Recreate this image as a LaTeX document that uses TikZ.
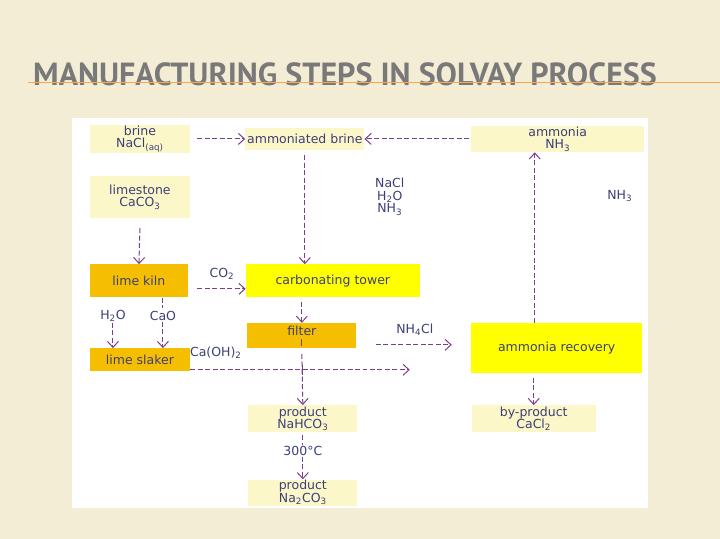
\documentclass[tikz,border=0pt]{standalone}
\usepackage{fontspec}
\setmainfont{DejaVu Sans}
\newfontfamily\titlefont{PT Sans}
\usetikzlibrary{arrows.meta}
\definecolor{ink}{HTML}{3B3F7A}
\definecolor{flow}{HTML}{7A3F8A}
\definecolor{pale}{HTML}{FCF7C8}
\definecolor{kiln}{HTML}{F5BE00}
\definecolor{tower}{HTML}{FFFF00}
\definecolor{paper}{HTML}{F4EDD6}
\newcommand\sub[1]{\textsubscript{#1}}
\tikzset{
    plain node/.style={inner sep=1pt, text=ink, font=\fontsize{12.5}{12.5}\selectfont, align=center},
    raw node/.style={plain node, fill=pale},
    kiln node/.style={plain node, fill=kiln},
    tower node/.style={plain node, fill=tower},
    tag/.style={plain node},
    flow/.style={draw=flow, line width=1pt, dash pattern=on 5pt off 2.5pt},
    feed/.style={flow, -{Straight Barb[length=6pt,width=11pt]}}
    }
\begin{document}
\begin{tikzpicture}[x=1pt,y=-1pt]
    \fill[paper] (0,0) rectangle (720,539);
    \fill[white] (72,118) rectangle (648,508);
    \node[anchor=base west, inner sep=0, text=gray!95!black, font=\titlefont\bfseries\fontsize{32}{32}\selectfont] (title) at (33,86) {MANUFACTURING STEPS IN SOLVAY PROCESS};
    \draw[orange!70, line width=0.8pt] (28,82) -- (720,82);
    % sources
    \node(brine)[raw node, minimum width=100, minimum height=26] at (140,139) {brine\\NaCl\sub{(aq)}};
    \node(abrine)[raw node, minimum width=119, minimum height=22] at (305,139) {ammoniated brine};
    \node(ammonia)[raw node, minimum width=173, minimum height=26] at (558,139) {ammonia\\NH\sub{3}};
    \node(limestone)[raw node, minimum width=100, minimum height=42] at (140,197) {limestone\\CaCO\sub{3}};
    \node(mix)[tag] at (390,197) {NaCl\\H\sub{2}O\\NH\sub{3}};
    \node(nh)[tag] at (620,196) {NH\sub{3}};
    % process units
    \node(kiln)[kiln node, minimum width=98, minimum height=33] at (139,281) {lime kiln};
    \node(tower)[tower node, minimum width=174, minimum height=33] at (333,281) {carbonating tower};
    \node(filter)[kiln node, minimum width=109, minimum height=25, anchor=north, text depth=10pt] at (302,323) {filter};
    \node(recovery)[tower node, minimum width=171, minimum height=50] at (557,348) {ammonia recovery};
    \node(slaker)[kiln node, minimum width=100, minimum height=23] at (140,360) {lime slaker};
    % products
    \node(bicarb)[raw node, minimum width=109, minimum height=27] at (303,419) {product\\NaHCO\sub{3}};
    \node(soda)[raw node, minimum width=109, minimum height=25] at (303,493) {product\\Na\sub{2}CO\sub{3}};
    \node(byprod)[raw node, minimum width=124, minimum height=27] at (534,419) {by-product\\CaCl\sub{2}};
    % labels
    \node(co2)[tag] at (222,274) {CO\sub{2}};
    \node(water)[tag] at (113,316) {H\sub{2}O};
    \node(cao)[tag] at (163,316) {CaO};
    \node(caoh)[tag, anchor=west] at (189,353) {Ca(OH)\sub{2}};
    \node(nh4cl)[tag] at (415,330) {NH\sub{4}Cl};
    \node(heat)[tag] at (303,451) {300\textdegree C};
    \coordinate(split) at (303,370);
    \coordinate(slakeout) at (410,370);
    % flows
    \draw[feed] (brine.east) ++(7,0) -- (abrine.west);
    \draw[feed] (ammonia.west) ++(-2,0) -- (abrine.east);
    \draw[feed] (abrine.south) ++(0,5) -- (abrine.south |- tower.north);
    \draw[feed] (limestone.south) ++(0,10) -- (kiln.north);
    \draw[feed] (kiln.east |- 0,289) ++(9,0) -- (tower.west |- 0,289);
    \draw[flow] (kiln.south -| cao) -- ++(0,10);
    \draw[feed] (water.south) -- (slaker.north -| water);
    \draw[feed] (cao.south) -- (slaker.north -| cao);
    \draw[feed] (tower.south -| filter) ++(0,4) -- (filter.north);
    \draw[flow, solid] (filter.south) ++(0,-9) -- ++(0,7);
    \draw[feed] (filter.south) ++(0,6) -- (bicarb.north);
    \draw[feed] (slaker.east |- split) -- (slakeout);
    \draw[flow, solid] (split) ++(0,-5) -- ++(0,10);
    \draw[feed] (376,345) -- (452,345);
    \draw[feed] (recovery.north -| 535,0) -- (ammonia.south -| 535,0);
    \draw[feed] (recovery.south -| byprod) ++(0,5) -- (byprod.north);
    \draw[flow] (bicarb.south) ++(0,3) -- (heat.north);
    \draw[feed] (heat.south) -- (soda.north);
\end{tikzpicture}
\end{document}
